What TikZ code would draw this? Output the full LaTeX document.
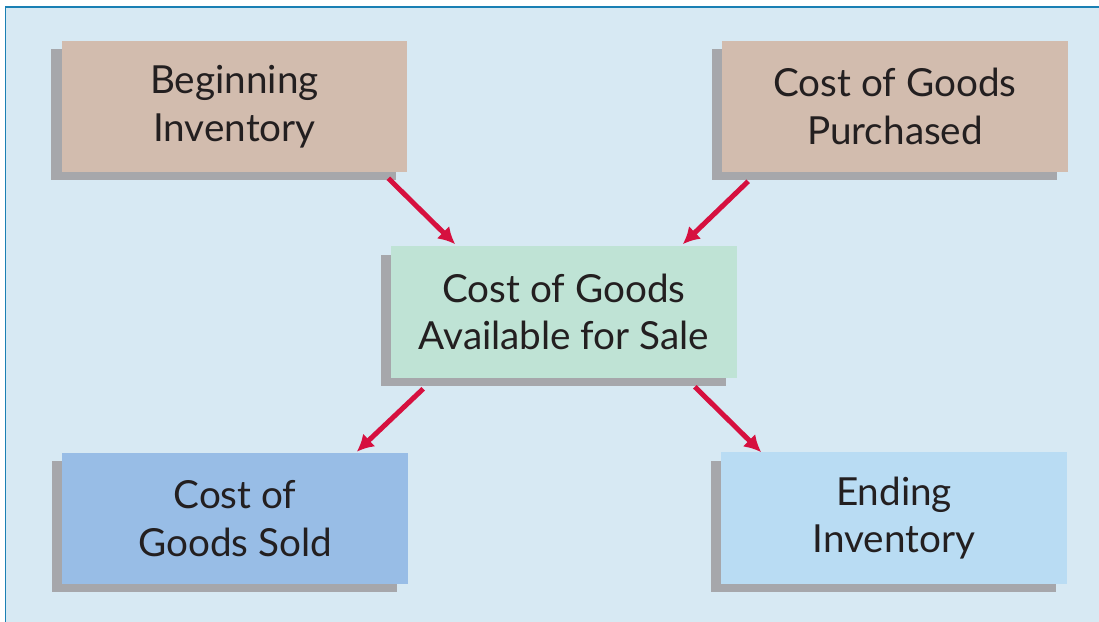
\documentclass[tikz,border=0pt]{standalone}
\usepackage{fontspec}
\setmainfont{Lato}
\usetikzlibrary{arrows.meta,shadows}
\definecolor{fond}{HTML}{D7E9F3}
\definecolor{cadre}{HTML}{1A80B4}
\definecolor{sable}{HTML}{D2BCAE}
\definecolor{vert}{HTML}{BFE3D5}
\definecolor{bleu}{HTML}{98BDE6}
\definecolor{ciel}{HTML}{B9DCF3}
\definecolor{ombre}{HTML}{A6A7AB}
\definecolor{rouge}{HTML}{D6103F}
\definecolor{texte}{HTML}{231F20}
\begin{document}
\begin{tikzpicture}[x=0.025cm, y=-0.025cm]
				\tikzset{boite/.style={rectangle, minimum width=8.625cm, minimum height=3.275cm, align=center, text=texte, font=\fontsize{27.5}{34}\selectfont, drop shadow={shadow xshift=-0.27cm, shadow yshift=-0.21cm, fill=ombre, opacity=1}}, fleche/.style={>={Latex[length=0.42cm, width=0.44cm]}, ->, line width=0.125cm, draw=rouge}};
				\useasboundingbox (0,0) rectangle (1099,622);
				\fill[white] (0,0) rectangle (1099,622);
				\fill[fond] (5.5,7) rectangle (1099,622);
				\draw[cadre, line width=0.04cm] (5.5,622) -- (5.5,7) -- (1099,7);

				\node[boite, fill=sable] (bi) at (234.5,106.5) {Beginning\\Inventory};
				\node[boite, fill=sable] (cgp) at (895,106.5) {Cost of Goods\\Purchased};
				\node[boite, fill=vert] (cafs) at (564,312) {Cost of Goods\\Available for Sale};
				\node[boite, fill=bleu] (cgs) at (235,518.5) {Cost of\\Goods Sold};
				\node[boite, fill=ciel] (ei) at (894,518) {Ending\\Inventory};

				\draw[fleche] ([xshift=-0.475cm, yshift=-0.15cm]bi.south east) -- ([xshift=1.6cm, yshift=0.05cm]cafs.north west);
				\draw[fleche] ([xshift=0.65cm, yshift=-0.225cm]cgp.south west) -- ([xshift=-1.35cm, yshift=0.05cm]cafs.north east);
				\draw[fleche] ([xshift=0.8cm, yshift=-0.275cm]cafs.south west) -- ([xshift=-1.275cm, yshift=0.025cm]cgs.north east);
				\draw[fleche] ([xshift=-1.05cm, yshift=-0.225cm]cafs.south east) -- ([xshift=1cm]ei.north west);
\end{tikzpicture}
\end{document}
